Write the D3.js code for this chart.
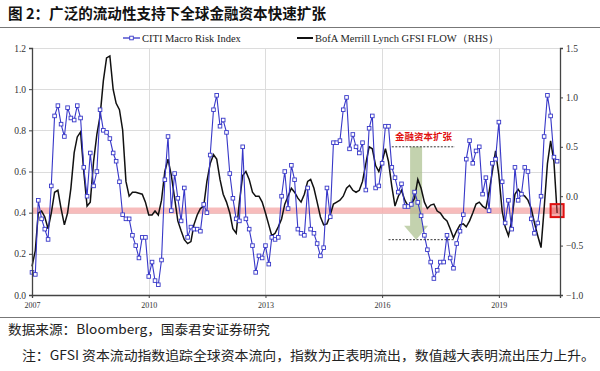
<!DOCTYPE html>
<html><head><meta charset="utf-8">
<script src="https://cdn.jsdelivr.net/npm/d3@7/dist/d3.min.js"></script>
<style>
html,body{margin:0;padding:0;background:#fff;}
svg{display:block;}
</style></head>
<body>
<script>
// ---------- data ----------
const titleText = "图 2：广泛的流动性支持下全球金融资本快速扩张";
const sourceText = "数据来源：Bloomberg，国泰君安证券研究";
const noteText = "注：GFSI 资本流动指数追踪全球资本流向，指数为正表明流出，数值越大表明流出压力上升。";
const seriesNames = ["CITI Macro Risk Index", "BofA Merrill Lynch GFSI FLOW（RHS）"];
const startYear = 2007; // monthly data from Jan 2007
const yearTicks = [2007, 2010, 2013, 2016, 2019];
const leftTicks = [0.0, 0.2, 0.4, 0.6, 0.8, 1.0, 1.2];
const rightTicks = [-1.0, -0.5, 0.0, 0.5, 1.0, 1.5];
const annotationText = "金融资本扩张";

// CITI Macro Risk Index (left axis), monthly
const citi = [
0.11,0.10,0.46,0.37,0.32,0.27,0.53,0.87,0.92,0.83,0.77,0.91,
0.86,0.85,0.92,0.86,0.62,0.48,0.69,0.53,0.60,0.90,0.80,0.79,
0.76,0.69,0.65,0.55,0.39,0.37,0.37,0.29,0.24,0.18,0.28,0.28,
0.09,0.16,0.07,0.05,0.17,0.56,0.77,0.41,0.59,0.47,0.36,0.52,
0.28,0.33,0.32,0.32,0.31,0.44,0.40,0.68,0.90,0.97,0.82,0.85,
0.79,0.59,0.47,0.37,0.36,0.72,0.37,0.32,0.24,0.11,0.19,0.18,
0.24,0.15,0.28,0.27,0.28,0.48,0.60,0.42,0.63,0.56,0.32,0.30,
0.29,0.52,0.32,0.30,0.25,0.19,0.23,0.52,0.38,0.74,0.74,0.75,
0.90,0.96,0.71,0.78,0.72,0.69,0.74,0.51,0.81,0.87,0.52,0.53,
0.64,0.82,0.82,0.62,0.57,0.50,0.54,0.43,0.43,0.44,0.50,0.45,
0.385,0.29,0.22,0.16,0.08,0.12,0.16,0.16,0.29,0.18,0.13,0.25,
0.31,0.39,0.66,0.75,0.64,0.70,0.72,0.49,0.57,0.41,0.64,0.66,
0.84,0.55,0.35,0.46,0.32,0.62,0.46,0.49,0.62,0.60,0.37,0.30,
0.35,0.48,0.77,0.97,0.87,0.67,0.65
];

// BofA Merrill Lynch GFSI FLOW (right axis), monthly
const gfsi = [
-0.71,-0.55,-0.17,-0.15,-0.21,-0.33,-0.17,0.04,0.06,-0.125,-0.29,-0.17,
0.08,0.44,0.60,0.65,0.25,-0.10,-0.06,0.35,0.625,0.81,1.17,1.40,
1.42,1.08,0.94,0.875,0.67,0.15,0.0,0.04,0.04,0.03,0.02,-0.06,
-0.19,-0.19,-0.15,-0.19,-0.04,0.25,0.375,0.21,-0.02,-0.25,-0.35,-0.44,
-0.48,-0.46,-0.29,-0.19,-0.125,-0.10,0.15,0.33,0.42,0.375,0.17,0.02,
-0.06,-0.17,-0.33,-0.375,-0.06,0.21,0.25,0.17,0.04,0.0,0.0,-0.06,
-0.17,-0.29,-0.40,-0.375,-0.31,-0.23,-0.08,0.0,0.08,0.04,-0.02,-0.06,
0.02,0.15,0.17,0.08,-0.06,-0.21,-0.29,-0.28,-0.19,-0.08,-0.06,-0.04,
0.0,0.08,0.11,0.06,0.04,0.06,0.15,0.33,0.50,0.48,0.31,0.25,
0.35,0.48,0.35,0.10,-0.10,0.0,0.06,-0.04,-0.10,-0.08,-0.02,0.17,
0.08,-0.06,-0.125,-0.09,-0.08,-0.15,-0.17,-0.22,-0.25,-0.33,-0.42,-0.35,
-0.29,-0.28,-0.31,-0.25,-0.17,-0.08,-0.06,-0.10,-0.125,0.04,0.25,0.46,
0.21,-0.15,-0.31,-0.40,-0.25,0.02,0.07,0.02,0.0,-0.04,-0.125,-0.27,
-0.40,-0.52,-0.125,0.33,0.56,0.35,-0.17
];

// ---------- layout ----------
const W = 600, H = 371;
const M = {left: 32, right: 560, top: 48, bottom: 295};
const blue = "#3737c8";

const svg = d3.select("body").append("svg").attr("width", W).attr("height", H);

const dateOf = i => new Date(startYear, i, 1);
const x = d3.scaleTime()
  .domain([new Date(2007, 0, 1), new Date(2020, 6, 28)])
  .range([M.left, M.right]);
const yL = d3.scaleLinear().domain([0, 1.2]).range([M.bottom, M.top]);
const yR = d3.scaleLinear().domain([-1.0, 1.5]).range([M.bottom, M.top]);

// title
svg.append("text").attr("x", 8).attr("y", 19)
  .attr("font-family", "'Noto Sans CJK SC', sans-serif").attr("font-weight", "bold")
  .attr("font-size", 14.5).attr("fill", "#111")
  .attr("textLength", 318).attr("lengthAdjust", "spacingAndGlyphs").text(titleText);
svg.append("line").attr("x1", 0).attr("x2", W).attr("y1", 27.5).attr("y2", 27.5)
  .attr("stroke", "#777").attr("stroke-width", 1);

// grid
const g = svg.append("g");
g.selectAll(".hg").data(leftTicks.filter(d => d > 0)).enter().append("line")
  .attr("x1", M.left).attr("x2", M.right)
  .attr("y1", d => Math.round(yL(d)) + 0.5).attr("y2", d => Math.round(yL(d)) + 0.5)
  .attr("stroke", "#dcdcdc").attr("stroke-width", 1);
g.selectAll(".vg").data(yearTicks.filter(d => d > 2007)).enter().append("line")
  .attr("x1", d => Math.round(x(new Date(d, 0, 1))) + 0.5).attr("x2", d => Math.round(x(new Date(d, 0, 1))) + 0.5)
  .attr("y1", M.top).attr("y2", M.bottom)
  .attr("stroke", "#dcdcdc").attr("stroke-width", 1);

// pink band at ~0.41
svg.append("rect").attr("x", M.left).attr("width", M.right - M.left)
  .attr("y", yL(0.425)).attr("height", yL(0.395) - yL(0.425))
  .attr("fill", "#f6b0b0").attr("opacity", 0.85);

// green arrow (behind lines, semi transparent)
const ax = x(new Date(2016, 10, 15));
const aTop = yR(0.5), aBodyEnd = yR(-0.3), aTip = yR(-0.44);
svg.append("path")
  .attr("d", `M${ax-6},${aTop} L${ax+6},${aTop} L${ax+6},${aBodyEnd} L${ax+12},${aBodyEnd} L${ax},${aTip} L${ax-12},${aBodyEnd} L${ax-6},${aBodyEnd} Z`)
  .attr("fill", "#a9bf8c").attr("opacity", 0.7);

// lines
const lineL = d3.line().x((d, i) => x(dateOf(i))).y(d => yL(d));
const lineR = d3.line().x((d, i) => x(dateOf(i))).y(d => yR(d));
svg.append("path").datum(gfsi).attr("d", lineR)
  .attr("fill", "none").attr("stroke", "#111").attr("stroke-width", 1.5);
svg.append("path").datum(citi).attr("d", lineL)
  .attr("fill", "none").attr("stroke", blue).attr("stroke-width", 1.1);
svg.selectAll(".mk").data(citi).enter().append("rect")
  .attr("x", (d, i) => x(dateOf(i)) - 1.8).attr("y", d => yL(d) - 1.8)
  .attr("width", 3.6).attr("height", 3.6)
  .attr("fill", "#fff").attr("stroke", blue).attr("stroke-width", 0.9);

// dashed guide lines + annotation
const dash = [[new Date(2016, 3, 1), new Date(2017, 10, 15), 0.5], [new Date(2016, 2, 1), new Date(2017, 10, 15), -0.44]];
svg.selectAll(".dl").data(dash).enter().append("line")
  .attr("x1", d => x(d[0])).attr("x2", d => x(d[1]))
  .attr("y1", d => yR(d[2])).attr("y2", d => yR(d[2]))
  .attr("stroke", "#333").attr("stroke-width", 1).attr("stroke-dasharray", "2,1.5");
svg.append("text").attr("x", x(new Date(2016, 4, 1))).attr("y", yR(0.5) - 7)
  .attr("font-family", "'Noto Sans CJK SC', sans-serif").attr("font-weight", "bold")
  .attr("font-size", 9.5).attr("fill", "#e01010").text(annotationText);

// red box at end
const bx = x(new Date(2020, 6, 1)), by = yL(0.41);
svg.append("rect").attr("x", bx - 6.5).attr("y", by - 6.5).attr("width", 13).attr("height", 13)
  .attr("fill", "rgba(230,70,70,0.45)").attr("stroke", "#e01010").attr("stroke-width", 2);

// axes
const serif = "'Liberation Serif', 'Times New Roman', serif";
const axL = svg.append("g").attr("transform", `translate(${M.left},0)`)
  .call(d3.axisLeft(yL).tickValues(leftTicks).tickFormat(d3.format(".1f")).tickSize(3).tickPadding(3));
const axR = svg.append("g").attr("transform", `translate(${M.right},0)`)
  .call(d3.axisRight(yR).tickValues(rightTicks).tickFormat(d3.format(".1f")).tickSize(3).tickPadding(3));
const axB = svg.append("g").attr("transform", `translate(0,${M.bottom})`)
  .call(d3.axisBottom(x).tickValues(yearTicks.map(d => new Date(d, 0, 1))).tickFormat(d3.timeFormat("%Y")).tickSize(3).tickPadding(4));
[axL, axR].forEach(a => {
  a.selectAll("text").attr("font-family", serif).attr("font-size", 9.5).attr("fill", "#333");
  a.select(".domain").attr("stroke", "#444").attr("stroke-width", 1.3);
  a.selectAll(".tick line").attr("stroke", "#444");
});
axB.selectAll("text").attr("font-family", serif).attr("font-size", 8).attr("fill", "#333");
axB.select(".domain").attr("stroke", "#444").attr("stroke-width", 1.3);
axB.selectAll(".tick line").attr("stroke", "#444");

// legend
const lg = svg.append("g").attr("font-family", serif).attr("font-size", 10.5).attr("fill", "#222");
lg.append("line").attr("x1", 123).attr("x2", 140).attr("y1", 38).attr("y2", 38).attr("stroke", blue).attr("stroke-width", 1.3);
lg.append("rect").attr("x", 129.7).attr("y", 36.2).attr("width", 3.6).attr("height", 3.6).attr("fill", "#fff").attr("stroke", blue).attr("stroke-width", 0.9);
lg.append("text").attr("x", 142).attr("y", 41.5).text(seriesNames[0]);
lg.append("line").attr("x1", 297).attr("x2", 313).attr("y1", 38).attr("y2", 38).attr("stroke", "#111").attr("stroke-width", 2);
lg.append("text").attr("x", 315).attr("y", 41.5).text(seriesNames[1]);

// footer
svg.append("line").attr("x1", 0).attr("x2", W).attr("y1", 317.5).attr("y2", 317.5)
  .attr("stroke", "#777").attr("stroke-width", 1);
svg.append("text").attr("x", 8).attr("y", 334)
  .attr("font-family", "'Noto Sans CJK SC', sans-serif").attr("font-size", 13).attr("fill", "#222")
  .attr("textLength", 262).attr("lengthAdjust", "spacingAndGlyphs")
  .text(sourceText);
svg.append("text").attr("x", 22).attr("y", 360)
  .attr("font-family", "'Noto Sans CJK SC', sans-serif").attr("font-size", 13).attr("fill", "#222")
  .attr("textLength", 573).attr("lengthAdjust", "spacingAndGlyphs")
  .text(noteText);
</script>
</body></html>
